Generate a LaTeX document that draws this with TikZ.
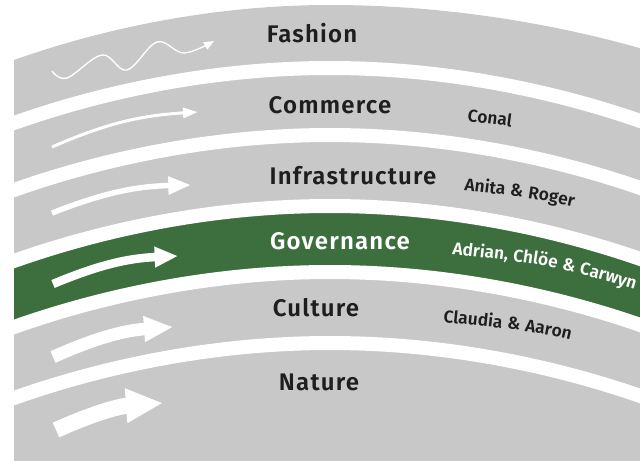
\documentclass[tikz,border=0pt]{standalone}
\usepackage{fontspec}
\setmainfont{Fira Sans}
\newfontfamily\headfont{Fira Sans SemiBold}[LetterSpace=5]
\newfontfamily\namefont{Fira Sans SemiBold}[LetterSpace=4]
\usetikzlibrary{arrows.meta,decorations.text}

\definecolor{bandgray}{RGB}{200,200,200}
\definecolor{govgreen}{RGB}{60,110,62}
\definecolor{inkgray}{RGB}{30,30,30}

\begin{document}
\begin{tikzpicture}[x=0.75pt,y=-0.75pt,
  gap/.style={draw=white,line width=10.5pt},
  head/.style={font=\headfont\fontsize{18}{20}\selectfont,text=inkgray,anchor=base,inner sep=0pt},
  flow/.style n args={3}{draw=white,line width=#1,-{Triangle[length=#2,width=#3]}},
  who/.style n args={2}{decorate,decoration={text along path,text color=#1,
    text={|\namefont\fontsize{13}{15}\selectfont|#2}}}]

  \useasboundingbox (0,0) rectangle (640,461);

  % bands
  \begin{scope}
    \clip (14,0) rectangle (640,461);
    \fill[bandgray] (0,65) parabola bend (330,5) (660,54) -- (660,470) -- (0,470) -- cycle;
    \fill[govgreen] (0,266) parabola bend (330,206) (660,266)
      -- (660,332) parabola bend (330,272) (0,332) -- cycle;
    \foreach \a in {68,135,206,272,343}
      \draw[gap] (0,{\a+60}) parabola bend (330,\a) (660,{\a+60});
  \end{scope}

  % flows
  \draw[flow={1pt}{7.5pt}{6pt}] plot[smooth,tension=0.6] coordinates
    {(52,71) (67,78) (102,55) (127,70) (157,42) (184,53) (214,41)};
  \draw[flow={2.25pt}{11.25pt}{7.5pt}] (52,147) to[bend left=10] (198,112);
  \draw[flow={4.1pt}{17pt}{12.75pt}] (52,213) to[bend left=10] (191,185);
  \draw[flow={6.4pt}{17.5pt}{14.5pt}] (53,284) to[bend left=10] (178,256);
  \draw[flow={9.4pt}{21.75pt}{18pt}] (53,357) to[bend left=10] (173,327);
  \draw[flow={12pt}{27.75pt}{24pt}] (56,430) to[bend left=10] (163,403);

  % layers
  \node[head] (fashion) at (312,42) {Fashion};
  \node[head] (commerce) at (330,113) {Commerce};
  \node[head] (infra) at (353,184) {Infrastructure};
  \node[head,text=white] (governance) at (340,249) {Governance};
  \node[head] (culture) at (316,316) {Culture};
  \node[head] (nature) at (319,390) {Nature};

  % people
  \path[who={inkgray}{Conal}] (467,121) .. controls (563.5,133.2) .. (660,162.5);
  \path[who={inkgray}{Anita {\&} Roger}] (464,190) .. controls (562,202.1) .. (660,231.8);
  \path[who={white}{Adrian, Chlöe {\&} Carwyn}] (452,254) .. controls (556,265.7) .. (660,297.1);
  \path[who={inkgray}{Claudia {\&} Aaron}] (443,322) .. controls (551.5,333.3) .. (660,366.2);
\end{tikzpicture}
\end{document}
